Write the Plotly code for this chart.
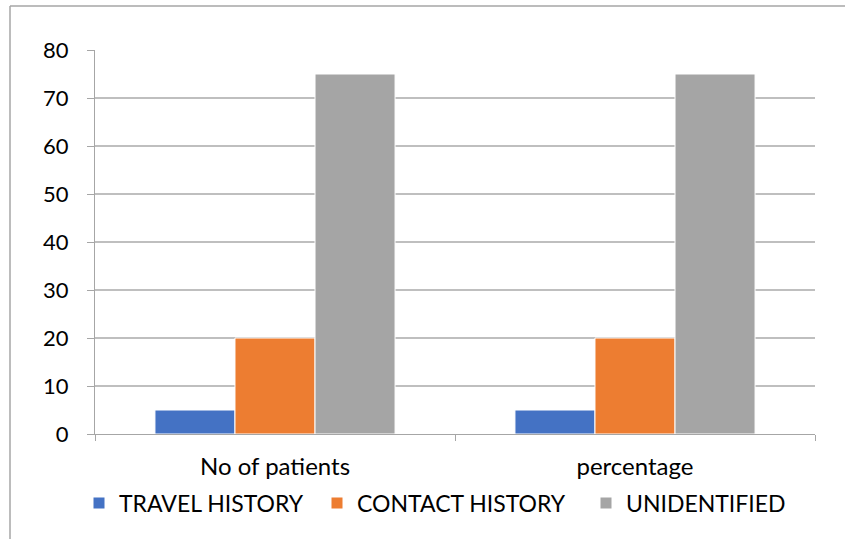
import plotly.graph_objects as go

categories = ["No of patients", "percentage"]
travel_history = [5, 5]
contact_history = [20, 20]
unidentified = [75, 75]

series = [
    ("TRAVEL HISTORY", travel_history, "#4472C4"),
    ("CONTACT HISTORY", contact_history, "#ED7D31"),
    ("UNIDENTIFIED", unidentified, "#A5A5A5"),
]

W, H = 845, 539
ml, mr, mt, mb = 95, 30, 50, 105
pw, ph = W - ml - mr, H - mt - mb

def px_x(p):
    return (p - ml) / pw

def px_y(p):
    return (H - mb - p) / ph

fig = go.Figure()
for name, vals, color in series:
    fig.add_trace(go.Bar(
        x=categories, y=vals, name=name, showlegend=False,
        marker=dict(color=color, line=dict(color="white", width=1)),
    ))

# one legend box per series so each entry sits at its own spot along the bottom
legend_ids = ["legend", "legend2", "legend3"]
legend_x = [79, 317, 586]
legend_style = dict(orientation="h", xanchor="left", yanchor="middle",
                    y=px_y(503), font=dict(size=23), itemwidth=30,
                    bgcolor="rgba(0,0,0,0)")
for (name, vals, color), lid in zip(series, legend_ids):
    fig.add_trace(go.Scatter(
        x=[None], y=[None], mode="markers", name=name, legend=lid,
        marker=dict(symbol="square", size=11, color=color),
    ))

grid = "#BFBFBF"
axis = "#A6A6A6"

fig.update_layout(
    width=W, height=H,
    margin=dict(l=ml, r=mr, t=mt, b=mb),
    paper_bgcolor="white", plot_bgcolor="white",
    font=dict(family="Lato, 'Open Sans', sans-serif", size=22, color="#000000"),
    barmode="group", bargap=0.333, bargroupgap=0,
    showlegend=True,
    xaxis=dict(
        type="category", tickson="boundaries", ticks="outside", ticklen=6,
        tickcolor=axis, showline=True, linecolor=axis, linewidth=1,
        showgrid=False, range=[-0.5, 1.5], ticklabelstandoff=11,
        tickfont=dict(size=24),
    ),
    yaxis=dict(
        range=[0, 80], dtick=10, ticks="outside", ticklen=7, tickcolor=axis,
        showline=True, linecolor=axis, linewidth=1,
        showgrid=True, gridcolor=grid, gridwidth=1.5, zeroline=False,
        ticklabelstandoff=14,
    ),
    shapes=[
        dict(type="line", xref="paper", yref="paper",
             x0=px_x(10), x1=px_x(845), y0=px_y(6), y1=px_y(6),
             line=dict(color="#A6A6A6", width=1.5)),
        dict(type="line", xref="paper", yref="paper",
             x0=px_x(10), x1=px_x(10), y0=px_y(6), y1=px_y(539),
             line=dict(color="#A6A6A6", width=1.5)),
    ],
)
for lid, lx in zip(legend_ids, legend_x):
    fig.update_layout({lid: dict(legend_style, x=px_x(lx))})

fig.write_html("out.html")
